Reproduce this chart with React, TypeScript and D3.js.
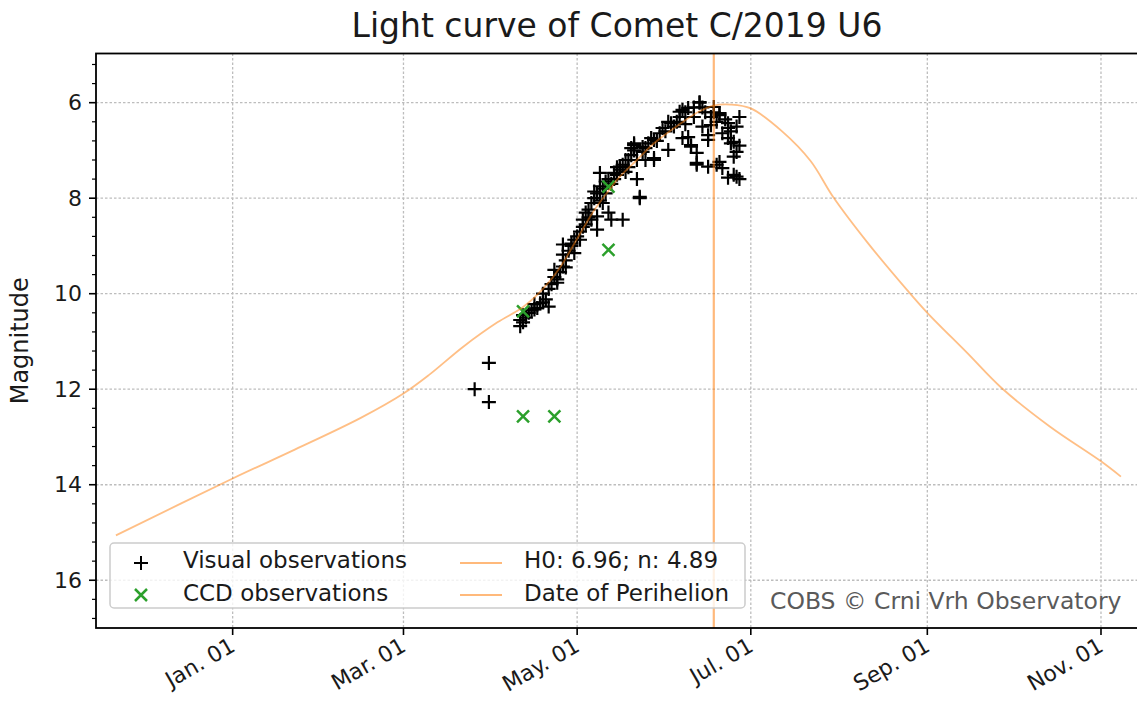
import React from "react";
import * as d3 from "d3";

const W = 1137;
const H = 707;
const plot = { left: 96, right: 1138, top: 53.5, bottom: 628 };
const FONT = "DejaVu Sans, sans-serif";

const title = "Light curve of Comet C/2019 U6";
const yLabel = "Magnitude";
const credit = "COBS © Crni Vrh Observatory";
const modelLabel = "H0: 6.96; n: 4.89";
const periLabel = "Date of Perihelion";

// axis ranges and ticks
const xDomain = ["2019-11-14", "2020-11-14"];
const yDomain = [4.97, 17];
const xTickDates = ["2020-01-01", "2020-03-01", "2020-05-01", "2020-07-01", "2020-09-01", "2020-11-01"];
const yTickValues = [6, 8, 10, 12, 14, 16];
const perihelionDate = "2020-06-18";

// visual estimates (date, magnitude)
const visualObs: [string, number][] = [
  ["2020-03-26", 12.0], ["2020-03-31", 11.45], ["2020-03-31", 12.27],
  ["2020-04-11", 10.68], ["2020-04-11", 10.55], ["2020-04-12", 10.6], ["2020-04-12", 10.45],
  ["2020-04-13", 10.5], ["2020-04-14", 10.4], ["2020-04-15", 10.35], ["2020-04-16", 10.22],
  ["2020-04-16", 10.33], ["2020-04-17", 10.3], ["2020-04-18", 10.2], ["2020-04-19", 10.18],
  ["2020-04-19", 10.0], ["2020-04-20", 10.12], ["2020-04-21", 10.27], ["2020-04-21", 9.9],
  ["2020-04-22", 9.8], ["2020-04-23", 9.5], ["2020-04-23", 9.65], ["2020-04-24", 9.77],
  ["2020-04-24", 9.7], ["2020-04-25", 9.55], ["2020-04-26", 9.43], ["2020-04-26", 9.18],
  ["2020-04-26", 8.97], ["2020-04-27", 9.3], ["2020-04-27", 9.45], ["2020-04-28", 9.1],
  ["2020-04-29", 9.0], ["2020-04-29", 8.95], ["2020-04-30", 9.15], ["2020-04-30", 8.87],
  ["2020-05-01", 8.8], ["2020-05-02", 8.87], ["2020-05-02", 8.7], ["2020-05-03", 8.45],
  ["2020-05-03", 8.6], ["2020-05-04", 8.3], ["2020-05-04", 8.55], ["2020-05-05", 8.24],
  ["2020-05-05", 8.4], ["2020-05-06", 8.45], ["2020-05-06", 8.1], ["2020-05-07", 7.86],
  ["2020-05-07", 8.0], ["2020-05-08", 8.66], ["2020-05-08", 8.38], ["2020-05-08", 7.9],
  ["2020-05-09", 7.47], ["2020-05-09", 7.75], ["2020-05-09", 8.05], ["2020-05-10", 8.1],
  ["2020-05-10", 7.8], ["2020-05-11", 7.9], ["2020-05-11", 7.65], ["2020-05-12", 8.3],
  ["2020-05-12", 7.6], ["2020-05-13", 8.45], ["2020-05-13", 7.7], ["2020-05-14", 7.47],
  ["2020-05-14", 7.6], ["2020-05-15", 7.51], ["2020-05-15", 7.35], ["2020-05-16", 7.4],
  ["2020-05-16", 7.34], ["2020-05-17", 8.45], ["2020-05-17", 7.3], ["2020-05-18", 7.2],
  ["2020-05-18", 7.45], ["2020-05-19", 7.2], ["2020-05-19", 7.35], ["2020-05-20", 7.1],
  ["2020-05-20", 6.95], ["2020-05-21", 7.0], ["2020-05-21", 6.85], ["2020-05-21", 6.89],
  ["2020-05-22", 7.2], ["2020-05-22", 7.6], ["2020-05-23", 8.0], ["2020-05-23", 7.97],
  ["2020-05-24", 6.93], ["2020-05-24", 7.03], ["2020-05-25", 6.95], ["2020-05-25", 7.2],
  ["2020-05-26", 6.85], ["2020-05-27", 6.74], ["2020-05-28", 7.16], ["2020-05-28", 7.2],
  ["2020-05-28", 6.78], ["2020-05-29", 6.8], ["2020-05-30", 6.64], ["2020-05-31", 6.53],
  ["2020-06-01", 6.6], ["2020-06-02", 6.99], ["2020-06-02", 6.4], ["2020-06-03", 6.43],
  ["2020-06-04", 6.5], ["2020-06-05", 6.4], ["2020-06-06", 6.19], ["2020-06-06", 6.3],
  ["2020-06-07", 6.15], ["2020-06-07", 6.74], ["2020-06-08", 6.2], ["2020-06-08", 6.45],
  ["2020-06-09", 6.11], ["2020-06-09", 6.72], ["2020-06-10", 6.92], ["2020-06-10", 6.89],
  ["2020-06-11", 6.1], ["2020-06-11", 6.3], ["2020-06-12", 7.05], ["2020-06-12", 7.26],
  ["2020-06-12", 7.3], ["2020-06-13", 6.0], ["2020-06-13", 5.99], ["2020-06-14", 6.5],
  ["2020-06-14", 6.1], ["2020-06-15", 6.2], ["2020-06-16", 6.78], ["2020-06-16", 6.68],
  ["2020-06-16", 7.34], ["2020-06-17", 6.47], ["2020-06-17", 6.3], ["2020-06-18", 6.09],
  ["2020-06-18", 6.2], ["2020-06-19", 7.3], ["2020-06-19", 6.4], ["2020-06-20", 6.26],
  ["2020-06-20", 6.22], ["2020-06-20", 7.24], ["2020-06-21", 6.64], ["2020-06-21", 7.37],
  ["2020-06-22", 6.35], ["2020-06-23", 6.43], ["2020-06-23", 6.53], ["2020-06-23", 6.74],
  ["2020-06-23", 7.57], ["2020-06-24", 6.85], ["2020-06-24", 6.6], ["2020-06-25", 7.13],
  ["2020-06-25", 6.82], ["2020-06-25", 7.51], ["2020-06-26", 7.03], ["2020-06-26", 7.55],
  ["2020-06-26", 6.5], ["2020-06-27", 7.6], ["2020-06-27", 6.3], ["2020-06-27", 6.9],
];

// CCD estimates (date, magnitude)
const ccdObs: [string, number][] = [
  ["2020-04-12", 10.37], ["2020-04-12", 12.57], ["2020-04-23", 12.57],
  ["2020-05-12", 7.76], ["2020-05-12", 9.08],
];

// fitted light curve (date, magnitude)
const modelCurve: [string, number][] = [
  ["2019-11-21", 15.06], ["2020-01-01", 13.87], ["2020-01-23", 13.26],
  ["2020-02-15", 12.6], ["2020-03-01", 12.09], ["2020-03-10", 11.7], ["2020-03-22", 11.11],
  ["2020-04-03", 10.6], ["2020-04-12", 10.28], ["2020-04-19", 9.9], ["2020-04-25", 9.45],
  ["2020-05-01", 8.85], ["2020-05-07", 8.25], ["2020-05-12", 7.85], ["2020-05-16", 7.55],
  ["2020-05-22", 7.2], ["2020-05-28", 6.85], ["2020-06-06", 6.45], ["2020-06-13", 6.18],
  ["2020-06-18", 6.06], ["2020-06-24", 6.04], ["2020-07-01", 6.12],
  ["2020-07-12", 6.6], ["2020-07-22", 7.22], ["2020-07-30", 7.98], ["2020-08-11", 8.93],
  ["2020-08-25", 9.93], ["2020-09-01", 10.4], ["2020-09-15", 11.24], ["2020-09-27", 11.97],
  ["2020-10-14", 12.78], ["2020-11-01", 13.51], ["2020-11-08", 13.83],
];

const parse = d3.utcParse("%Y-%m-%d");
const fmt = d3.utcFormat("%b. %d");

const plusPath = "M-7,0H7M0,-7V7";
const crossPath = "M-6,-6L6,6M-6,6L6,-6";

export default function App() {
  const x = d3.scaleUtc()
    .domain(xDomain.map((d) => parse(d) as Date))
    .range([plot.left, plot.right]);
  const y = d3.scaleLinear().domain(yDomain).range([plot.top, plot.bottom]);

  const line = d3.line<[string, number]>()
    .x((d) => x(parse(d[0]) as Date))
    .y((d) => y(d[1]))
    .curve(d3.curveCatmullRom.alpha(0.5));

  const minorY = d3.range(5.2, 16.9, 0.4).filter(
    (v) => !yTickValues.some((t) => Math.abs(t - v) < 1e-6)
  );
  const periX = x(parse(perihelionDate) as Date);
  const orange = "#ff7f0e";

  return (
    <svg
      width={W}
      height={H}
      style={{ position: "absolute", left: 0, top: 0, background: "#fff" }}
      fontFamily={FONT}
    >
      <rect width={W} height={H} fill="#fff" />
      <text x={617} y={37} textAnchor="middle" fontSize={33} fill="#1a1a1a">
        {title}
      </text>

      {/* grid */}
      <g stroke="#bdbdbd" strokeWidth={1.3} strokeDasharray="2.5,2">
        {xTickDates.map((d) => {
          const px = x(parse(d) as Date);
          return <line key={d} x1={px} x2={px} y1={plot.top} y2={plot.bottom} />;
        })}
        {yTickValues.map((v) => (
          <line key={v} x1={plot.left} x2={plot.right} y1={y(v)} y2={y(v)} />
        ))}
      </g>

      {/* observations */}
      <g stroke="#000" strokeWidth={2.2} fill="none">
        {visualObs.map((d, i) => (
          <path key={i} d={plusPath} transform={`translate(${x(parse(d[0]) as Date)},${y(d[1])})`} />
        ))}
      </g>
      <g stroke="#2ca02c" strokeWidth={2.5} fill="none">
        {ccdObs.map((d, i) => (
          <path key={i} d={crossPath} transform={`translate(${x(parse(d[0]) as Date)},${y(d[1])})`} />
        ))}
      </g>

      {/* model curve and perihelion */}
      <path d={line(modelCurve) || ""} fill="none" stroke={orange} strokeOpacity={0.5} strokeWidth={1.8} />
      <line x1={periX} x2={periX} y1={plot.top} y2={plot.bottom} stroke={orange} strokeOpacity={0.55} strokeWidth={2.2} />

      {/* legend */}
      <rect x={110} y={543} width={635} height={65} rx={4} fill="#fff" fillOpacity={0.8} stroke="#cccccc" strokeWidth={1.5} />
      <path d={plusPath} transform="translate(141,563)" stroke="#000" strokeWidth={2} />
      <path d={crossPath} transform="translate(141,595)" stroke="#2ca02c" strokeWidth={2.5} />
      <line x1={460} x2={502} y1={563} y2={563} stroke={orange} strokeOpacity={0.55} strokeWidth={2} />
      <line x1={460} x2={502} y1={595} y2={595} stroke={orange} strokeOpacity={0.55} strokeWidth={2} />
      <g fontSize={23} fill="#1a1a1a">
        <text x={183} y={560} dy="0.35em">Visual observations</text>
        <text x={183} y={593} dy="0.35em">CCD observations</text>
        <text x={524} y={560} dy="0.35em">{modelLabel}</text>
        <text x={524} y={593} dy="0.35em">{periLabel}</text>
      </g>

      <text x={770} y={609} fontSize={23.5} fill="#5a5a5a">{credit}</text>

      {/* axes frame */}
      <rect x={plot.left} y={plot.top} width={plot.right - plot.left} height={plot.bottom - plot.top} fill="none" stroke="#000" strokeWidth={1.8} />

      {/* y axis */}
      <g stroke="#000" strokeWidth={1.6}>
        {yTickValues.map((v) => (
          <line key={v} x1={plot.left - 7} x2={plot.left} y1={y(v)} y2={y(v)} />
        ))}
        {minorY.map((v) => (
          <line key={v} x1={plot.left - 4} x2={plot.left} y1={y(v)} y2={y(v)} strokeWidth={1.2} />
        ))}
      </g>
      <g fontSize={22} fill="#1a1a1a" textAnchor="end">
        {yTickValues.map((v) => (
          <text key={v} x={82} y={y(v)} dy="0.35em">{v}</text>
        ))}
      </g>
      <text
        transform={`translate(28,${(plot.top + plot.bottom) / 2}) rotate(-90)`}
        textAnchor="middle"
        fontSize={24}
        fill="#1a1a1a"
      >
        {yLabel}
      </text>

      {/* x axis */}
      <g stroke="#000" strokeWidth={1.6}>
        {xTickDates.map((d) => {
          const px = x(parse(d) as Date);
          return <line key={d} x1={px} x2={px} y1={plot.bottom} y2={plot.bottom + 7} />;
        })}
      </g>
      <g fontSize={22} fill="#1a1a1a" textAnchor="end">
        {xTickDates.map((d) => {
          const px = x(parse(d) as Date);
          return (
            <text key={d} transform={`translate(${px + 4},650) rotate(-30)`}>
              {fmt(parse(d) as Date)}
            </text>
          );
        })}
      </g>
    </svg>
  );
}
